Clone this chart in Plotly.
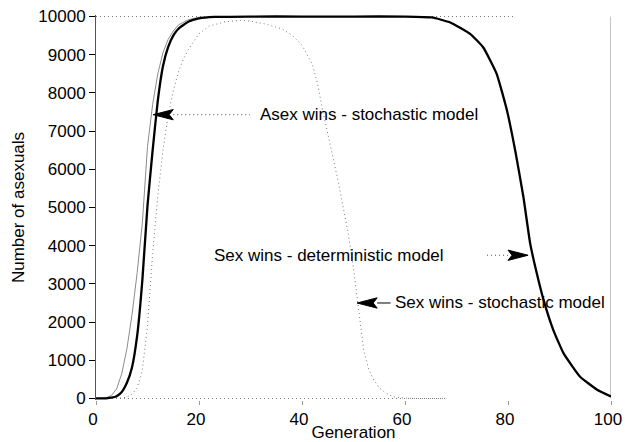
import plotly.graph_objects as go

# ---- data ----
det_gen = [0, 2, 3, 4, 5, 6, 7, 8, 9, 10, 11, 12, 13, 14, 15, 16, 18, 20, 23, 30, 40, 50, 60,
           65.2, 68.8, 72.7, 75.2, 77.8, 79.8, 81.4, 83.0, 84.3, 85.6, 86.9, 88.8, 90.8, 94.0, 97.3, 100]
det_num = [0, 5, 20, 60, 170, 410, 820, 1650, 3100, 5050, 6500, 7800, 8700, 9200, 9500, 9680, 9870, 9950, 9990, 10000, 10000, 10000, 10000,
           9975, 9845, 9540, 9190, 8500, 7540, 6490, 5270, 4060, 3270, 2580, 1790, 1180, 570, 230, 50]

asex_gen = [0, 2, 3, 4, 5, 6, 7, 8, 9, 10, 11, 12, 13, 14, 15, 16, 18, 20, 25, 30, 40, 50, 60, 65]
asex_num = [0, 20, 80, 250, 650, 1300, 2200, 3300, 4600, 6600, 7700, 8500, 9050, 9400, 9620, 9780, 9920, 9980, 10000, 10000, 10000, 10000, 10000, 10000]

sex_gen = [0, 4, 5, 6, 7, 8, 9, 10, 11, 12, 13, 14, 15, 16, 17, 18, 20, 22, 25, 28, 30, 33, 36, 38, 40, 42, 43, 44, 45,
           46, 47, 48, 49, 50, 51, 52, 53, 54, 55, 56, 57, 58, 60, 62, 68]
sex_num = [0, 0, 10, 40, 110, 280, 750, 1900, 3800, 5300, 6500, 7400, 8050, 8550, 8900, 9150, 9550, 9750, 9860, 9900, 9880, 9800, 9680, 9520, 9250, 8750, 8250, 7550, 6950,
           6350, 5700, 5000, 4300, 3400, 2300, 1250, 750, 470, 280, 170, 90, 40, 10, 0, 0]

y_ticks = list(range(0, 10001, 1000))
x_ticks = [0, 20, 40, 60, 80, 100]

ann_text = ["Asex wins - stochastic model", "Sex wins - deterministic model", "Sex wins - stochastic model"]
ann_text_x = [31.5, 22.5, 57.7]
ann_y = [7430, 3750, 2500]
arrow_tip_x = [11.1, 83.9, 50.7]
arrow_dir = [-1, 1, -1]
arrow_tail_x = [29.9, 75.9, 57.2]
arrow_dash = ["1px,3px", "1px,3px", "solid"]

font_family = "Liberation Sans, Arial, sans-serif"

fig = go.Figure()

fig.add_trace(go.Scatter(x=sex_gen, y=sex_num, mode="lines",
                         line=dict(color="#7a7a7a", width=1, dash="1px,3px"), showlegend=False))
fig.add_trace(go.Scatter(x=asex_gen, y=asex_num, mode="lines",
                         line=dict(color="#8c8c8c", width=1), showlegend=False))
fig.add_trace(go.Scatter(x=det_gen, y=det_num, mode="lines",
                         line=dict(color="#000000", width=2.3, shape="spline", smoothing=0.4), showlegend=False))

shapes = []
shapes.append(dict(type="line", xref="x", yref="y", x0=0, x1=81, y0=10000, y1=10000,
                   line=dict(color="#777777", width=1, dash="1px,3px"), layer="below"))
shapes.append(dict(type="line", xref="x", yref="y", x0=0, x1=68, y0=0, y1=0,
                   line=dict(color="#777777", width=1, dash="1px,3px"), layer="below"))
shapes.append(dict(type="line", xref="x", yref="y", x0=100, x1=100, y0=0, y1=10000,
                   line=dict(color="#8a8a8a", width=1), layer="below"))

head_len = 3.9   # in generations (~20 px)
head_half = 135  # in asexual units (~5 px)
annotations = []
for t, tx, y, tip, d, tail, dash in zip(ann_text, ann_text_x, ann_y, arrow_tip_x, arrow_dir, arrow_tail_x, arrow_dash):
    base = tip - d * head_len
    notch = tip - d * head_len * 0.8
    path = f"M {tip},{y} L {base},{y + head_half} L {notch},{y} L {base},{y - head_half} Z"
    shapes.append(dict(type="path", xref="x", yref="y", path=path,
                       fillcolor="#000000", line=dict(color="#000000", width=1)))
    shapes.append(dict(type="line", xref="x", yref="y", x0=base, x1=tail, y0=y, y1=y,
                       line=dict(color="#555555" if dash != "solid" else "#000000", width=1, dash=dash)))
    annotations.append(dict(x=tx, y=y, xref="x", yref="y", text=t, showarrow=False,
                            xanchor="left", yanchor="middle",
                            font=dict(family=font_family, size=17, color="#000000")))

fig.update_layout(
    width=625, height=442,
    margin=dict(l=96, r=14, t=14.5, b=41.7, autoexpand=False),
    paper_bgcolor="white", plot_bgcolor="white",
    font=dict(family=font_family, size=17, color="#000000"),
    shapes=shapes, annotations=annotations,
    xaxis=dict(range=[0, 100], tickvals=x_ticks, ticks="outside", ticklen=4, tickcolor="#999999",
               showgrid=False, zeroline=False, showline=False, automargin=False,
               ticklabeloverflow="allow", tickformat="d", ticklabelshift=-3,
               tickfont=dict(family=font_family, size=17),
               title=dict(text="Generation", standoff=8, font=dict(family=font_family, size=17))),
    yaxis=dict(range=[-40, 10040], tickvals=y_ticks, ticks="outside", ticklen=6, tickcolor="#000000",
               showgrid=False, zeroline=False, showline=True, linecolor="#555555", linewidth=1,
               automargin=False, tickformat="d", ticklabeloverflow="allow",
               tickfont=dict(family=font_family, size=17),
               title=dict(text="Number of asexuals", standoff=9, font=dict(family=font_family, size=17))),
)

# remove the default 8px page margin so the 625x442 figure fills the window exactly
fig.write_html("out.html",
               config={"displayModeBar": False},
               post_script="document.body.style.margin='0';document.body.style.overflow='hidden';")
